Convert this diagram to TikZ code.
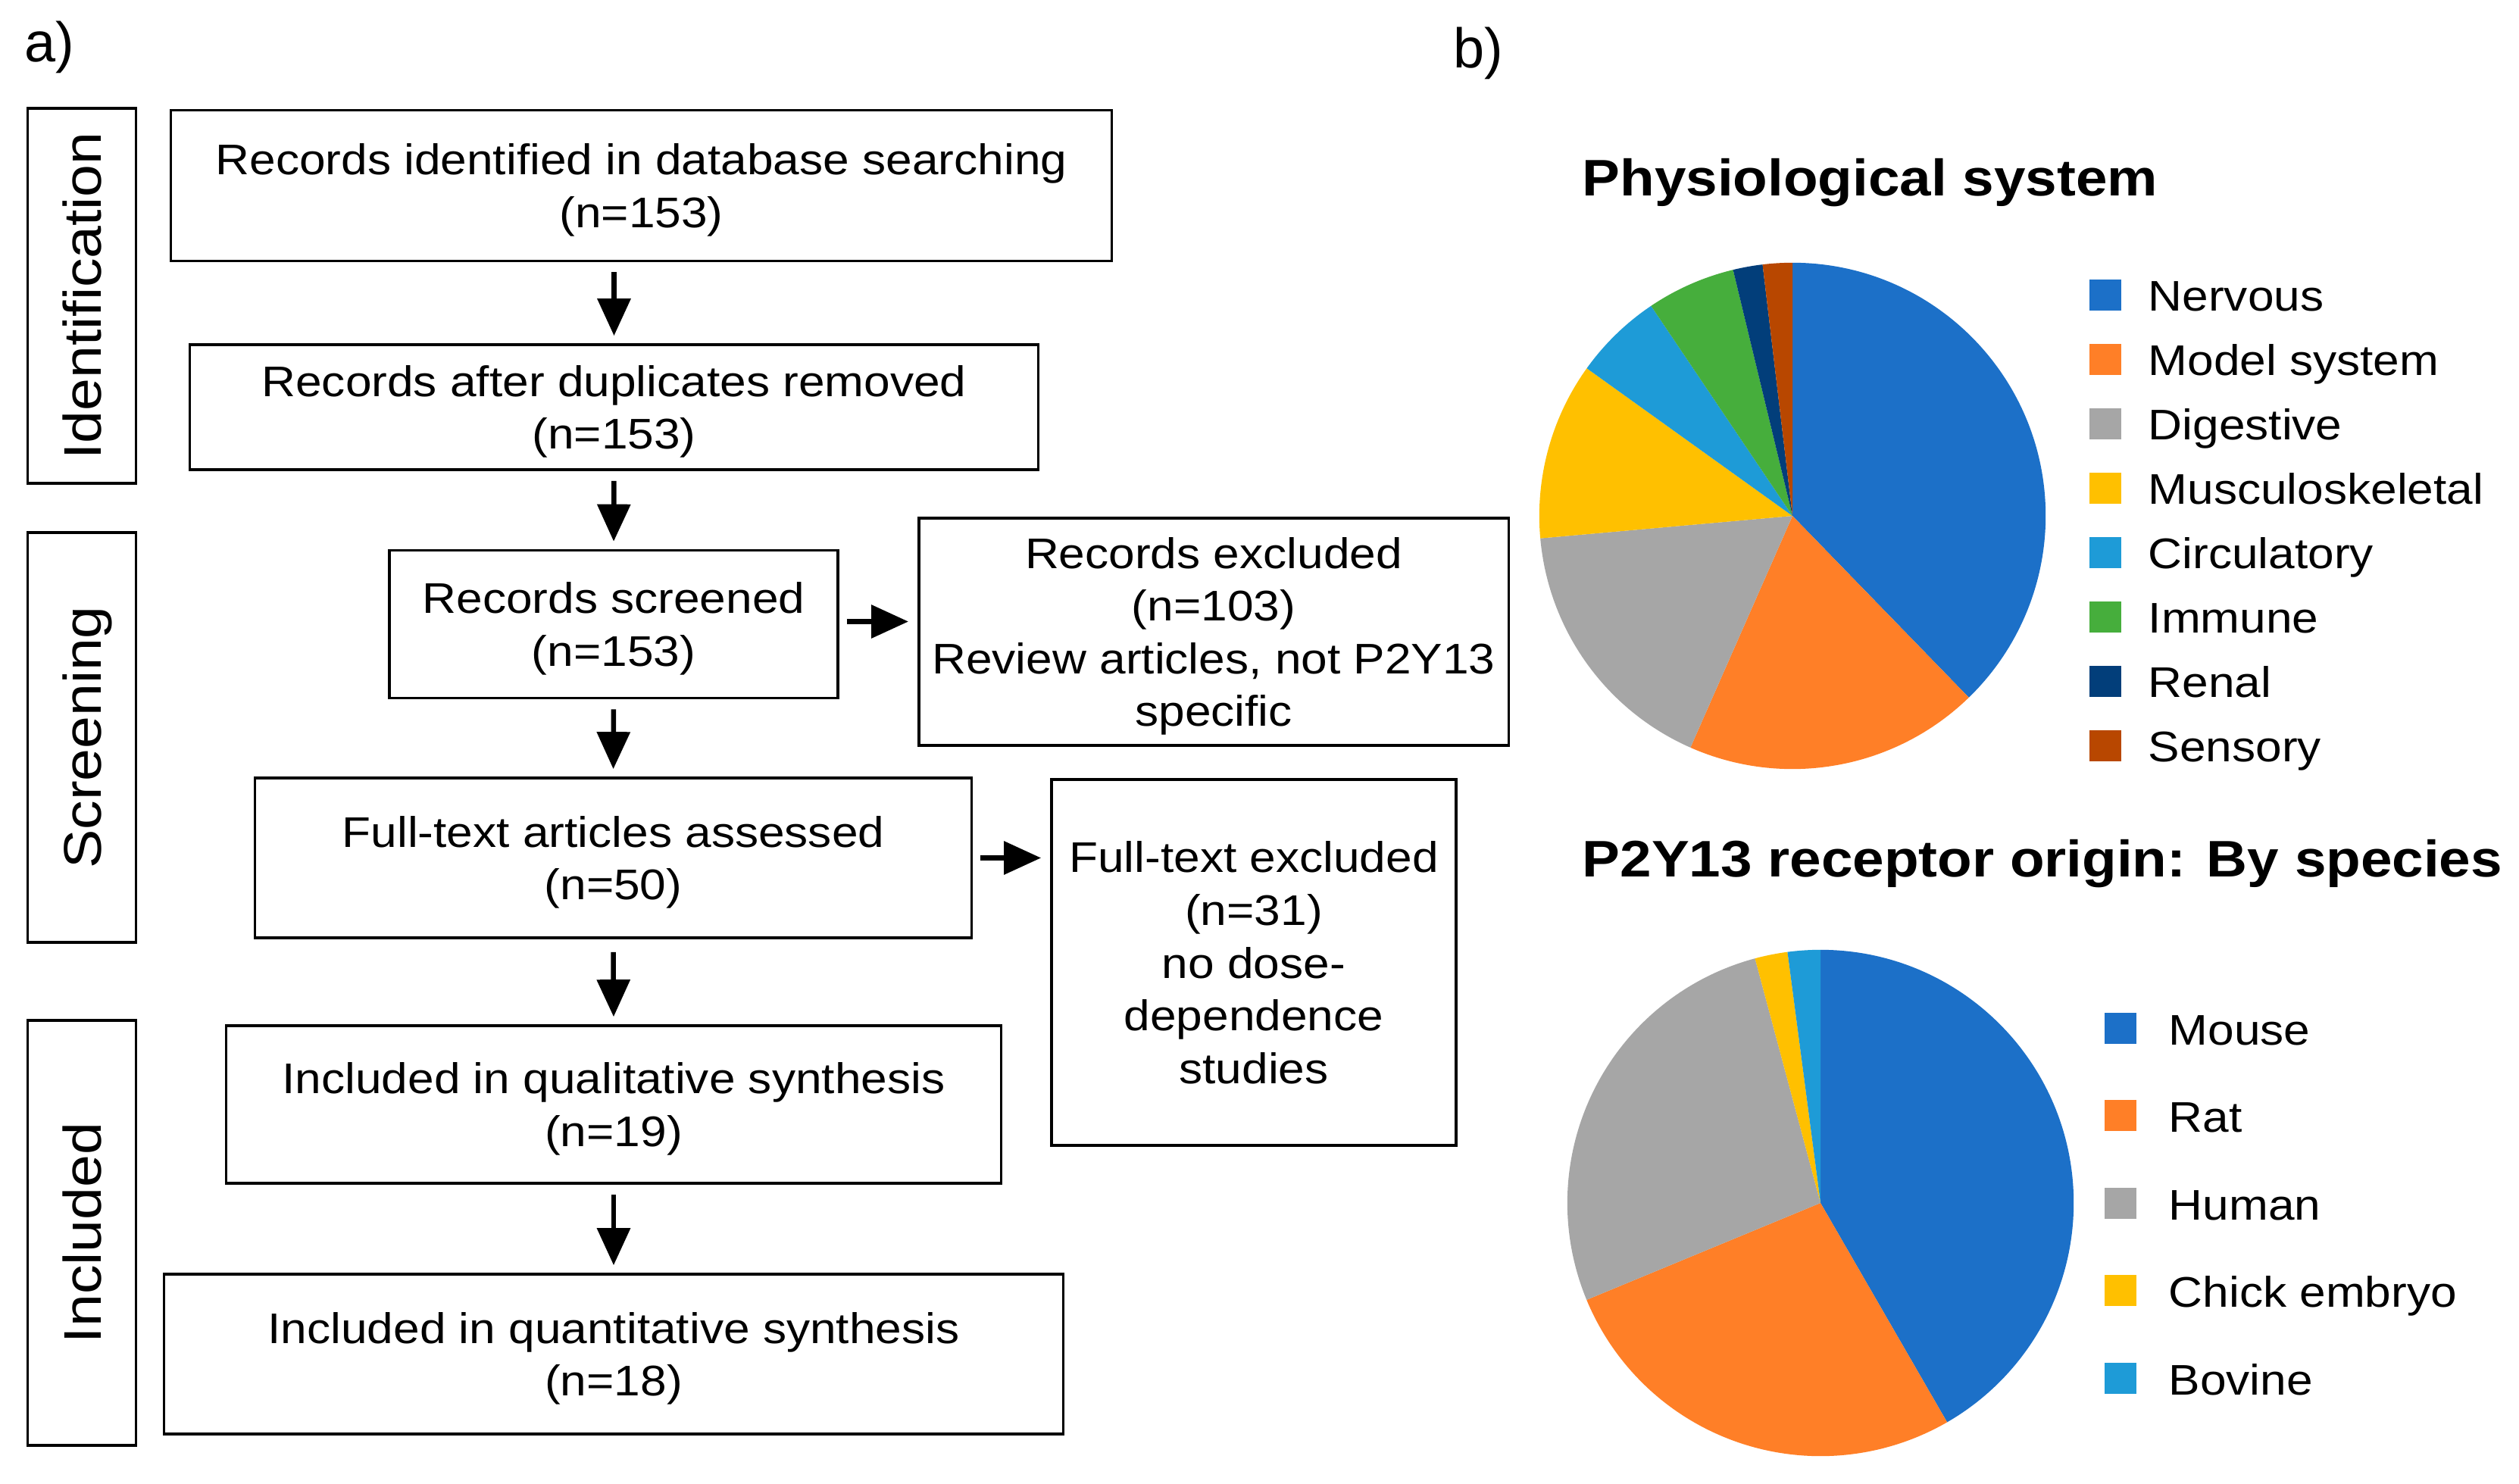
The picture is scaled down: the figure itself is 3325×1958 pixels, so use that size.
\documentclass[tikz,border=0pt]{standalone}
\usepackage{fontspec}
\setmainfont{Liberation Sans}[FakeStretch=1.1]
\newfontfamily\labfont{Liberation Sans}
\usetikzlibrary{arrows.meta}
\definecolor{cNerv}{HTML}{1C70C8}
\definecolor{cModel}{HTML}{FF7F27}
\definecolor{cDig}{HTML}{A6A6A6}
\definecolor{cMus}{HTML}{FFC000}
\definecolor{cCirc}{HTML}{1E9BD7}
\definecolor{cImm}{HTML}{46AE3C}
\definecolor{cRen}{HTML}{023E7A}
\definecolor{cSens}{HTML}{B84700}
\newcommand{\boxfont}{\fontsize{16.08pt}{19.8pt}\selectfont}
\newcommand{\sidefontsz}{\fontsize{19.9pt}{22pt}\selectfont}
\newcommand{\titlefnt}{\fontsize{19.3pt}{22pt}\selectfont\bfseries}
\begin{document}
\begin{tikzpicture}[x={(0.01cm,0)}, y={(0,-0.01cm)},
  box/.style={draw, line width=0.035cm, inner sep=0pt, align=center, font=\boxfont, text depth=0pt},
  side/.style={draw, line width=0.035cm, inner sep=0pt, rotate=90, minimum height=1.43cm,
     text height=0.5cm, text depth=0cm, font=\sidefontsz},
  arr/.style={line width=0.065cm, -{Triangle[length=0.49cm,width=0.43cm]},
     shorten <=0.13cm, shorten >=0.1cm},
  sq/.style={inner sep=0pt, minimum width=0.42cm, minimum height=0.41cm},
  lgtext/.style={inner sep=0pt, anchor=base west, font=\boxfont},
  ttl/.style={inner sep=0pt, anchor=base west, font=\titlefnt},
  lab/.style={inner sep=0pt, anchor=base west, font=\labfont\fontsize{21pt}{24pt}\selectfont}]
\useasboundingbox[fill=white] (0,0) rectangle (3325,1958);

% panel labels
\node[lab] (la) at (32,82) {a)};
\node[lab] (lb) at (1918,90) {b)};

% side boxes
\node[side, minimum width=4.95cm] (s1) at (108,390.5) {Identification};
\node[side, minimum width=5.41cm] (s2) at (108,973.5) {Screening};
\node[side, minimum width=5.61cm] (s3) at (108,1627.5) {Included};

% flow boxes
\node[box, minimum width=12.41cm, minimum height=1.99cm] (b1) at (846.5,245) {Records identified in database searching\\(n=153)};
\node[box, minimum width=11.19cm, minimum height=1.65cm] (b2) at (810.5,537.5) {Records after duplicates removed\\(n=153)};
\node[box, minimum width=5.92cm, minimum height=1.95cm] (b3) at (810,824) {Records screened\\(n=153)};
\node[box, minimum width=7.78cm, minimum height=3.00cm] (e1) at (1602,834) {Records excluded\\(n=103)\\Review articles, not P2Y13\\specific};
\node[box, minimum width=9.45cm, minimum height=2.11cm] (b4) at (809.5,1132.5) {Full-text articles assessed\\(n=50)};
\node[box, minimum width=5.34cm, minimum height=4.83cm] (e2) at (1655,1270.5) {Full-text excluded\\(n=31)\\no dose-\\dependence\\studies};
\node[box, minimum width=10.22cm, minimum height=2.08cm] (b5) at (810,1458) {Included in qualitative synthesis\\(n=19)};
\node[box, minimum width=11.86cm, minimum height=2.11cm] (b6) at (810,1787.5) {Included in quantitative synthesis\\(n=18)};

% arrows
\draw[arr] (b2.north |- b1.south) -- (b2.north);
\draw[arr] (b2.south) -- (b3.north);
\draw[arr] (b3.south) -- (b4.north);
\draw[arr, shorten <=0.17cm] (b4.south) -- (b5.north);
\draw[arr] (b5.south) -- (b6.north);
\draw[arr, shorten <=0.1cm, shorten >=0.12cm] ([yshift=0.035cm]b3.east) -- ([yshift=0.035cm]b3.east -| e1.west);
\draw[arr, shorten <=0.1cm, shorten >=0.12cm] (b4.east) -- (b4.east -| e2.west);

% pie 1
\node[ttl] (t1) at (2088,259) {Physiological system};
\begin{scope}[shift={(2366,681)}]
\fill[cNerv]  (0,0) -- (90:3.34cm) arc[start angle=90, end angle=-45.85, radius=3.34cm] -- cycle;
\fill[cModel] (0,0) -- (-45.85:3.34cm) arc[start angle=-45.85, end angle=-113.77, radius=3.34cm] -- cycle;
\fill[cDig]   (0,0) -- (-113.77:3.34cm) arc[start angle=-113.77, end angle=-174.91, radius=3.34cm] -- cycle;
\fill[cMus]   (0,0) -- (-174.91:3.34cm) arc[start angle=-174.91, end angle=-215.66, radius=3.34cm] -- cycle;
\fill[cCirc]  (0,0) -- (-215.66:3.34cm) arc[start angle=-215.66, end angle=-236.04, radius=3.34cm] -- cycle;
\fill[cImm]   (0,0) -- (-236.04:3.34cm) arc[start angle=-236.04, end angle=-256.42, radius=3.34cm] -- cycle;
\fill[cRen]   (0,0) -- (-256.42:3.34cm) arc[start angle=-256.42, end angle=-263.21, radius=3.34cm] -- cycle;
\fill[cSens]  (0,0) -- (-263.21:3.34cm) arc[start angle=-263.21, end angle=-270, radius=3.34cm] -- cycle;
\end{scope}
\node[sq, fill=cNerv]  (q1) at (2779,389.5) {};
\node[sq, fill=cModel] (q2) at (2779,474.5) {};
\node[sq, fill=cDig]   (q3) at (2779,559.5) {};
\node[sq, fill=cMus]   (q4) at (2779,644.5) {};
\node[sq, fill=cCirc]  (q5) at (2779,729.5) {};
\node[sq, fill=cImm]   (q6) at (2779,814.5) {};
\node[sq, fill=cRen]   (q7) at (2779,899.5) {};
\node[sq, fill=cSens]  (q8) at (2779,984.5) {};
\node[lgtext] (l1) at (2835,410.5) {Nervous};
\node[lgtext] (l2) at (2835,495.5) {Model system};
\node[lgtext] (l3) at (2835,580.5) {Digestive};
\node[lgtext] (l4) at (2835,665.5) {Musculoskeletal};
\node[lgtext] (l5) at (2835,750.5) {Circulatory};
\node[lgtext] (l6) at (2835,835.5) {Immune};
\node[lgtext] (l7) at (2835,920.5) {Renal};
\node[lgtext] (l8) at (2835,1005.5) {Sensory};

% pie 2
\node[ttl] (t2) at (2088,1157.5) {P2Y13 receptor origin: By species};
\begin{scope}[shift={(2403,1588)}]
\fill[cNerv]  (0,0) -- (90:3.34cm) arc[start angle=90, end angle=-60, radius=3.34cm] -- cycle;
\fill[cModel] (0,0) -- (-60:3.34cm) arc[start angle=-60, end angle=-157.5, radius=3.34cm] -- cycle;
\fill[cDig]   (0,0) -- (-157.5:3.34cm) arc[start angle=-157.5, end angle=-255, radius=3.34cm] -- cycle;
\fill[cMus]   (0,0) -- (-255:3.34cm) arc[start angle=-255, end angle=-262.5, radius=3.34cm] -- cycle;
\fill[cCirc]  (0,0) -- (-262.5:3.34cm) arc[start angle=-262.5, end angle=-270, radius=3.34cm] -- cycle;
\end{scope}
\node[sq, fill=cNerv]  (r1) at (2799,1357) {};
\node[sq, fill=cModel] (r2) at (2799,1472.5) {};
\node[sq, fill=cDig]   (r3) at (2799,1588) {};
\node[sq, fill=cMus]   (r4) at (2799,1703.5) {};
\node[sq, fill=cCirc]  (r5) at (2799,1819) {};
\node[lgtext] (m1) at (2862,1379) {Mouse};
\node[lgtext] (m2) at (2862,1494.5) {Rat};
\node[lgtext] (m3) at (2862,1610) {Human};
\node[lgtext] (m4) at (2862,1725.5) {Chick embryo};
\node[lgtext] (m5) at (2862,1841) {Bovine};
\end{tikzpicture}
\end{document}
